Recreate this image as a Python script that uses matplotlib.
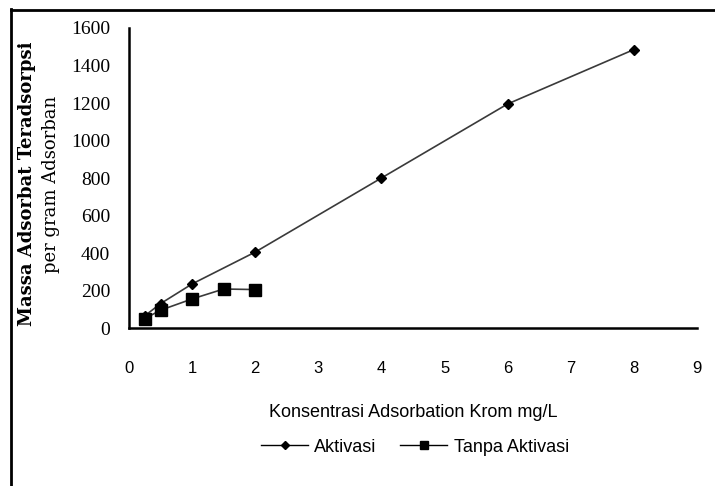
import matplotlib
matplotlib.use("Agg")
import matplotlib.pyplot as plt
from matplotlib.lines import Line2D

# Data
akt_x = [0.25, 0.5, 1, 2, 4, 6, 8]
akt_y = [65, 130, 235, 405, 800, 1195, 1485]
tanpa_x = [0.25, 0.5, 1, 1.5, 2]
tanpa_y = [50, 95, 155, 208, 205]
x_ticks = [0, 1, 2, 3, 4, 5, 6, 7, 8, 9]
y_ticks = [0, 200, 400, 600, 800, 1000, 1200, 1400, 1600]
series_names = ["Aktivasi", "Tanpa Aktivasi"]
xlabel = "Konsentrasi Adsorbation Krom mg/L"
ylabel1 = "Massa Adsorbat Teradsorpsi"
ylabel2 = "per gram Adsorban"

W, H = 715, 486
fig = plt.figure(figsize=(W / 100, H / 100), dpi=100)
sans = ["Liberation Sans", "DejaVu Sans"]
serif = ["Liberation Serif", "DejaVu Serif"]
wserif = ["DejaVu Serif"]

def fx(px):
    return px / W

def fy(py):
    return 1 - py / H

ax = fig.add_axes([fx(129), fy(328), fx(697) - fx(129), fy(28) - fy(328)])
ax.plot(akt_x, akt_y, color="#3a3a3a", lw=1.2, marker="D", ms=5,
        mfc="black", mec="black", label=series_names[0], zorder=3)
ax.plot(tanpa_x, tanpa_y, color="#3a3a3a", lw=1.2, marker="s", ms=8,
        mfc="black", mec="black", label=series_names[1], zorder=3)
ax.set_xlim(0, 9)
ax.set_ylim(0, 1600)
ax.set_xticks(x_ticks)
ax.set_yticks(y_ticks)
ax.set_xticklabels([str(v) for v in x_ticks], family=sans, fontsize=12)
ax.set_yticklabels([str(v) for v in y_ticks], family=serif, fontsize=14)
ax.tick_params(axis="both", length=0)
ax.tick_params(axis="x", pad=24)
ax.tick_params(axis="y", pad=13.5)
for s in ["top", "right"]:
    ax.spines[s].set_visible(False)
for s in ["left", "bottom"]:
    ax.spines[s].set_linewidth(1.8)
    ax.spines[s].set_color("black")

fig.text(fx(413), fy(412), xlabel, family=sans, fontsize=13,
         ha="center", va="center")
fig.text(fx(27), fy(184), ylabel1, family=wserif, fontsize=13, fontweight="bold",
         rotation=90, ha="center", va="center")
fig.text(fx(51), fy(184), ylabel2, family=wserif, fontsize=13,
         rotation=90, ha="center", va="center")

handles = [
    Line2D([], [], color="black", lw=1, marker="D", ms=4, mfc="black", mec="black"),
    Line2D([], [], color="black", lw=1, marker="s", ms=6, mfc="black", mec="black"),
]
fig.legend(handles, series_names, loc="center", bbox_to_anchor=(fx(415), fy(447)),
           ncol=2, frameon=False, prop={"family": sans, "size": 13},
           handlelength=2.6, handletextpad=0.35, columnspacing=1.3)

# figure border (left and top)
fig.add_artist(Line2D([fx(11), fx(11)], [fy(9), 0], transform=fig.transFigure,
                      color="black", lw=2))
fig.add_artist(Line2D([fx(11), 1], [fy(10), fy(10)], transform=fig.transFigure,
                      color="black", lw=2))

fig.savefig("out.png", dpi=100)
